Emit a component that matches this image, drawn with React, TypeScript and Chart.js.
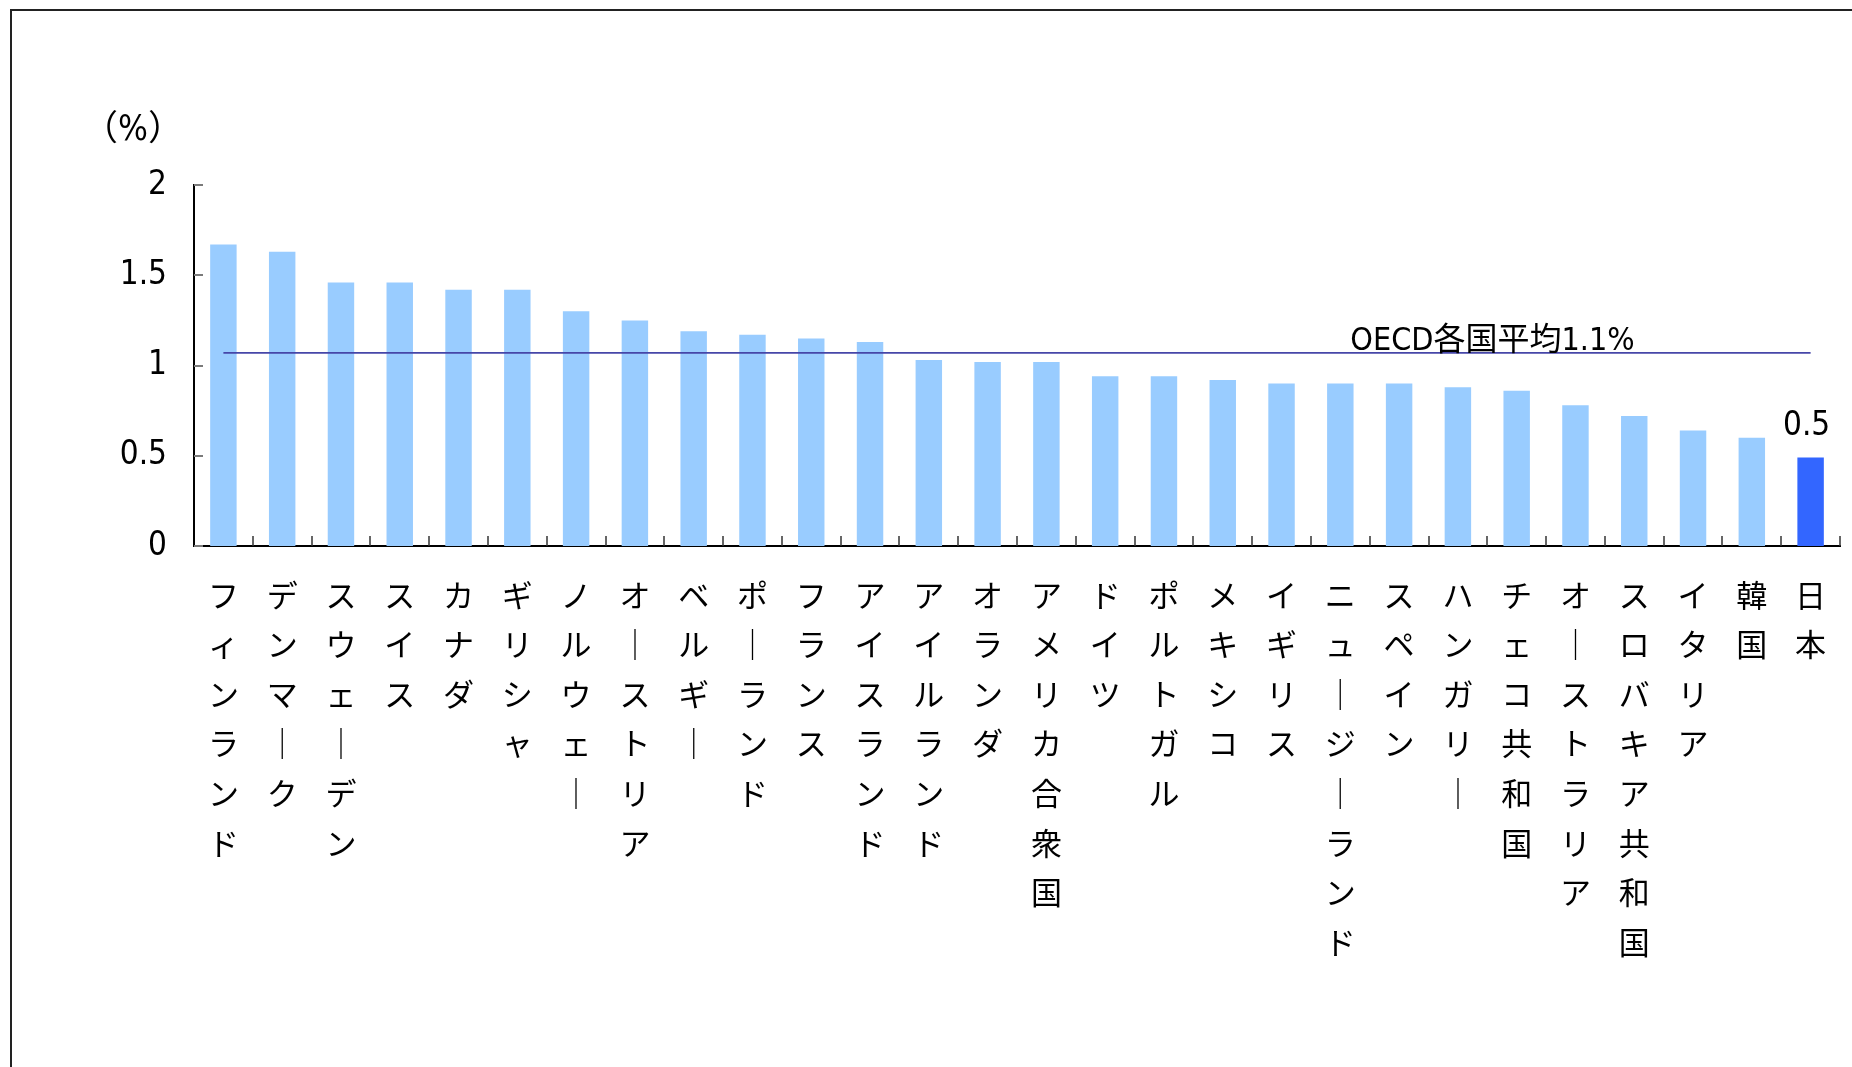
import React, { useEffect, useRef } from "react";
import { Chart, registerables } from "chart.js";

Chart.register(...registerables);

const categories: string[] = [
  "フィンランド", "デンマーク", "スウェーデン", "スイス", "カナダ", "ギリシャ",
  "ノルウェー", "オーストリア", "ベルギー", "ポーランド", "フランス", "アイスランド",
  "アイルランド", "オランダ", "アメリカ合衆国", "ドイツ", "ポルトガル", "メキシコ",
  "イギリス", "ニュージーランド", "スペイン", "ハンガリー", "チェコ共和国",
  "オーストラリア", "スロバキア共和国", "イタリア", "韓国", "日本",
];

const values: number[] = [
  1.67, 1.63, 1.46, 1.46, 1.42, 1.42, 1.30, 1.25, 1.19, 1.17, 1.15, 1.13,
  1.03, 1.02, 1.02, 0.94, 0.94, 0.92, 0.90, 0.90, 0.90, 0.88, 0.86,
  0.78, 0.72, 0.64, 0.60, 0.49,
];

const highlightCountry = "日本";
const oecdAverage = 1.07;
const oecdLabel = "OECD各国平均1.1%";
const unitLabel = "（%）";
const yTicks: number[] = [0, 0.5, 1, 1.5, 2];

const LATIN = "'Liberation Sans Narrow', 'DejaVu Sans Condensed', 'Noto Sans CJK JP', sans-serif";
const CJK = "'Noto Sans CJK JP', sans-serif";

const barColor = "#99CCFF";
const highlightColor = "#3366FF";
const lineColor = "#4646a8";

// vertical label: one character per line; long vowel mark shown as vertical stroke
const verticalLabel = (s: string) => Array.from(s).map((c) => (c === "ー" ? "｜" : c));

const overlayPlugin = {
  id: "overlay",
  afterDatasetsDraw(chart: any) {
    const { ctx, chartArea } = chart;
    const x = chart.scales.x;
    const y = chart.scales.y;
    ctx.save();
    // y tick marks (inside)
    ctx.strokeStyle = "#7a7a7a";
    ctx.lineWidth = 2;
    yTicks.forEach((v) => {
      const py = Math.round(y.getPixelForValue(v));
      ctx.beginPath();
      ctx.moveTo(chartArea.left, py);
      ctx.lineTo(chartArea.left + 9, py);
      ctx.stroke();
    });
    // x tick marks at category boundaries (inside)
    const half = (x.getPixelForValue(1) - x.getPixelForValue(0)) / 2;
    ctx.strokeStyle = "#333";
    ctx.lineWidth = 1.5;
    for (let i = 0; i < categories.length; i++) {
      const px = Math.round(x.getPixelForValue(i) + half);
      ctx.beginPath();
      ctx.moveTo(px, chartArea.bottom);
      ctx.lineTo(px, chartArea.bottom - 10);
      ctx.stroke();
    }
    // unit label
    ctx.fillStyle = "#000";
    ctx.font = `35px ${LATIN}`;
    ctx.textAlign = "center";
    ctx.textBaseline = "middle";
    ctx.fillText(unitLabel, chartArea.left - 61, y.getPixelForValue(2) - 54);
    // OECD label
    ctx.font = `32px ${LATIN}`;
    ctx.textAlign = "left";
    ctx.textBaseline = "alphabetic";
    ctx.fillText(oecdLabel, x.getPixelForValue(19) + 10, y.getPixelForValue(oecdAverage) - 3);
    // highlighted value label
    const hi = categories.indexOf(highlightCountry);
    if (hi >= 0) {
      ctx.font = `33px ${LATIN}`;
      ctx.textAlign = "center";
      ctx.fillText(values[hi].toFixed(1), x.getPixelForValue(hi) - 4, y.getPixelForValue(values[hi]) - 23);
    }
    ctx.restore();
  },
};

export default function App() {
  const ref = useRef<HTMLCanvasElement | null>(null);

  useEffect(() => {
    if (!ref.current) return;
    const chart = new Chart(ref.current, {
      type: "bar",
      data: {
        labels: categories.map(verticalLabel),
        datasets: [
          {
            type: "line",
            data: categories.map(() => oecdAverage),
            borderColor: lineColor,
            borderWidth: 1.6,
            pointRadius: 0,
            fill: false,
            order: 0,
          } as any,
          {
            type: "bar",
            data: values,
            backgroundColor: categories.map((c) => (c === highlightCountry ? highlightColor : barColor)),
            barPercentage: 0.45,
            categoryPercentage: 1,
            order: 1,
          },
        ],
      },
      options: {
        responsive: false,
        animation: false,
        layout: { padding: { left: 0, right: 12, top: 185, bottom: 0 } },
        plugins: { legend: { display: false }, tooltip: { enabled: false } },
        scales: {
          x: {
            z: 1,
            grid: { display: false, drawTicks: false },
            border: { display: true, color: "#000", width: 2 },
            ticks: {
              color: "#000",
              font: { family: CJK, size: 31, lineHeight: 1.6 },
              padding: 24,
              maxRotation: 0,
              minRotation: 0,
              autoSkip: false,
            },
            afterFit: (scale: any) => {
              scale.height = 1067 - 546;
            },
          },
          y: {
            min: 0,
            max: 2,
            z: 1,
            grid: { display: false, drawTicks: false },
            border: { display: true, color: "#000", width: 2 },
            ticks: {
              stepSize: 0.5,
              color: "#000",
              font: { family: LATIN, size: 33 },
              padding: 27,
              callback: (v: any) => String(Number(v)),
            },
            afterFit: (scale: any) => {
              scale.width = 194;
            },
          },
        },
      },
      plugins: [overlayPlugin],
    });
    return () => chart.destroy();
  }, []);

  return (
    <>
      <div
        style={{
          position: "fixed",
          left: 10,
          top: 9,
          right: 0,
          bottom: 0,
          borderLeft: "2px solid #222",
          borderTop: "2px solid #222",
          background: "#fff",
        }}
      />
      <div style={{ position: "fixed", left: 0, top: 0, width: 1852, height: 1067 }}>
        <canvas ref={ref} width={1852} height={1067} style={{ display: "block" }} />
      </div>
    </>
  );
}
